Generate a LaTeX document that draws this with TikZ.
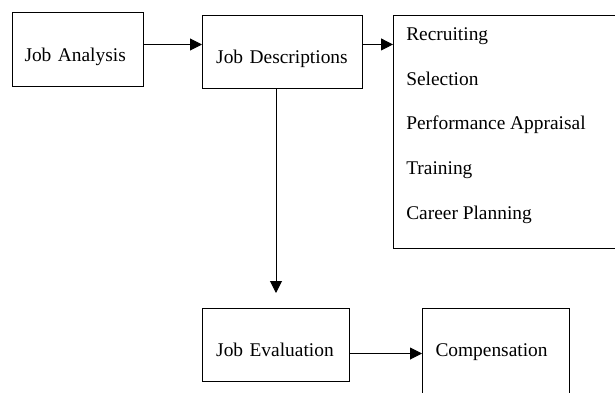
\documentclass[tikz,border=0pt]{standalone}
\usepackage{fontspec}
\setmainfont{Liberation Serif}
\usetikzlibrary{arrows.meta, calc}
\tikzset{
    jobbox/.style={rectangle, draw=black, line width=0.75pt, anchor=north west, inner ysep=0pt, align=left, font=\fontsize{14.55}{17}\selectfont},
    taskitem/.style={anchor=base west, inner sep=0pt, font=\fontsize{14.55}{17}\selectfont},
    arrow/.style={line width=0.75pt, -{Triangle[length=9pt, width=9pt]}}
}

\begin{document}
\begin{tikzpicture}[x=0.75pt, y=-0.75pt]
    % page frame, boxes are cut at the right and bottom edges
    \useasboundingbox (0,0) rectangle (615,393);
    \clip (0,0) rectangle (615,393);

    % Job boxes
    \node[jobbox, inner xsep=9pt, text width=80.25pt, text height=36.5pt, text depth=19pt] (ja) at (12,12) {Job Analysis};
    \node[jobbox, inner xsep=10.3pt, text width=99.5pt, text height=36.2pt, text depth=18.5pt] (jd) at (202,15) {Job Descriptions};
    \node[jobbox, inner xsep=10.3pt, text width=89.7pt, text height=36pt, text depth=18.75pt] (je) at (202,308) {Job Evaluation};
    \node[jobbox, inner xsep=9.75pt, text width=90.75pt, text height=35.8pt, text depth=40.7pt] (comp) at (422,308) {Compensation};

    % Uses of the job descriptions
    \node[jobbox, inner sep=0pt, minimum width=185pt, minimum height=174.75pt] (tasks) at (393,15) {};
    \foreach \tasktext [count=\i from 0] in {Recruiting, Selection, Performance Appraisal, Training, Career Planning}
        \node[taskitem] (task\i) at ($(tasks.north west)+(13,25.7+44.6*\i)$) {\tasktext};

    % Arrows
    \coordinate (evtop) at ($(je.north west)+(74,-15)$);
    \draw[arrow] ($(ja.east)+(0,-5)$) coordinate (a1) -- (a1 -| jd.west);
    \draw[arrow] ($(jd.east)+(0,-7.5)$) coordinate (a2) -- (a2 -| tasks.west);
    \draw[arrow] (evtop |- jd.south) -- (evtop);
    \draw[arrow] ($(je.east)+(0,8.5)$) coordinate (a3) -- (a3 -| comp.west);
\end{tikzpicture}
\end{document}
